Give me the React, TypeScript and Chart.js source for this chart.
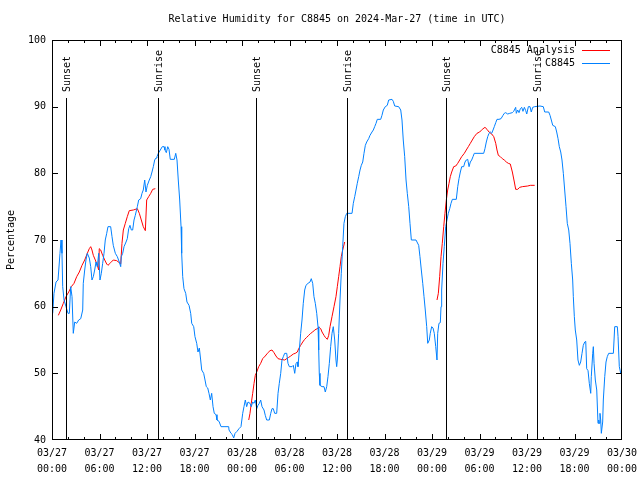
import React, { useEffect, useRef } from 'react';
import { Chart, registerables } from 'chart.js';

Chart.register(...registerables);

const TITLE = 'Relative Humidity for C8845 on 2024-Mar-27 (time in UTC)';
const Y_LABEL = 'Percentage';
const MONTH = '03';
const START_DAY = 27;
const X_MIN = 0;
const X_MAX = 72;
const X_STEP = 6;
const X_MINOR = 2;
const Y_MIN = 40;
const Y_MAX = 100;
const Y_STEP = 10;

const SERIES_LABELS = ['C8845 Analysis', 'C8845'];
const SERIES_COLORS = ['#ff0000', '#0080ff'];

// Observed relative humidity (hours since 03/27 00:00 UTC)
const obsHours = [
  0.09, 0.25, 0.51, 0.76, 1.01, 1.14, 1.26, 1.35, 1.52, 1.77, 2.02, 2.19, 2.36, 2.53, 2.69, 2.87, 3.12, 3.37, 3.63, 3.88,
  3.95, 4.13, 4.29, 4.46, 4.71, 4.89, 5.05, 5.22, 5.39, 5.56, 5.72, 5.9, 6.06, 6.23, 6.4, 6.57, 6.73, 6.91, 7.07, 7.41,
  7.58, 7.74, 8.0, 8.25, 8.5, 8.68, 8.75, 8.93, 9.1, 9.35, 9.51, 9.69, 9.85, 10.02, 10.19, 10.36, 10.52, 10.78, 10.95, 11.2,
  11.37, 11.53, 11.71, 11.87, 12.04, 12.29, 12.47, 12.63, 12.8, 12.97, 13.14, 13.26, 13.43, 13.68, 13.93, 14.15, 14.27, 14.44, 14.62, 14.78,
  14.94, 15.45, 15.63, 15.79, 15.95, 16.13, 16.3, 16.38, 16.51, 16.67, 16.89, 17.05, 17.31, 17.52, 17.65, 17.9, 18.06, 18.28, 18.44, 18.61,
  18.78, 18.91, 19.16, 19.33, 19.49, 19.67, 19.83, 20.0, 20.17, 20.34, 20.5, 20.72, 20.84, 21.1, 21.35, 21.85, 22.32, 22.36, 22.61, 22.78,
  22.95, 23.12, 23.37, 23.62, 23.87, 24.09, 24.25, 24.42, 24.59, 24.76,
  25.01, 25.17, 25.35, 25.52, 25.68, 25.86, 26.02, 26.19, 26.36, 26.53, 26.78, 26.94, 27.12, 27.45, 27.63, 27.79, 27.95, 28.13, 28.38, 28.55,
  28.71, 28.89, 29.05, 29.22, 29.39, 29.65, 29.81, 29.98, 30.32, 30.48, 30.66, 30.82, 30.99, 31.07, 31.24, 31.41, 31.58, 31.74, 31.92, 32.08,
  32.34, 32.59, 32.75, 32.93, 33.09, 33.26, 33.44, 33.6, 33.69, 33.76, 33.85, 34.11, 34.36, 34.52, 34.7, 34.86, 35.03, 35.2, 35.37, 35.53,
  35.71, 35.87, 35.96, 36.04, 36.21, 36.38, 36.54, 36.72, 36.88, 37.05, 37.23, 37.9, 38.06, 38.24, 38.4, 38.56, 38.74, 38.91, 39.07, 39.25,
  39.41, 39.58, 39.75, 40.0, 40.17, 40.42, 40.59, 40.76, 40.93, 41.09, 41.52, 41.68, 41.85, 42.1, 42.35, 42.53, 42.95, 43.11, 43.29, 43.79,
  44.05, 44.21, 44.37, 44.55, 44.72, 44.88, 45.06, 45.22, 45.39, 45.98, 46.32, 46.48, 46.65, 46.83, 46.99, 47.15, 47.33, 47.46, 47.66, 47.78,
  47.96, 48.13, 48.29, 48.47, 48.63, 48.72, 48.88, 49.05, 49.14, 49.22, 49.39, 49.55, 49.73, 49.89, 50.06, 50.24, 50.4, 50.57, 51.07, 51.25,
  51.41, 51.58, 51.75, 52.0, 52.17, 52.33, 52.51, 52.68, 52.84, 53.01, 53.18, 53.34, 54.53, 54.69, 54.86, 55.04, 55.2, 55.37, 55.54, 55.71,
  55.87, 56.05, 56.21, 56.46, 56.72, 56.97, 57.13, 57.31, 57.56, 57.82, 58.15, 58.32, 58.57, 58.65, 58.82, 58.99, 59.16, 59.33, 59.49, 59.67,
  59.84, 59.97, 60.17, 60.38, 60.54, 60.72, 60.97, 61.64, 62.06, 62.24, 62.74, 62.91, 63.07, 63.25, 63.58, 63.75, 63.92, 64.08, 64.26, 64.42,
  64.59, 64.76, 64.93, 65.09, 65.27, 65.43, 65.6, 65.77, 65.85, 65.98, 66.1, 66.28, 66.44, 66.61, 66.78, 66.95, 67.11, 67.29, 67.42, 67.54,
  67.71, 67.87, 68.05, 68.12, 68.3, 68.38, 68.47, 68.63, 68.81, 68.97, 69.06, 69.14, 69.22, 69.31, 69.39, 69.56, 69.64, 69.82, 69.98, 70.14,
  70.32, 70.91, 71.08, 71.41, 71.5, 71.66, 71.84,
];
const obsValues = [
  59, 62, 63.7, 64, 68, 70, 68, 63, 61, 60, 59, 59, 63, 61.5, 56, 57.7, 57.5, 58, 58.2, 59.5,
  63.5, 65.5, 67, 68, 67.3, 66, 64, 64.5, 65.5, 66.7, 66, 68, 64, 65, 66.5, 68, 70, 71, 72, 72,
  70.5, 69.2, 68, 67.5, 66.7, 66, 67.5, 68, 69, 69.7, 70.2, 71.7, 72.2, 71.5, 71.5, 73, 73.7, 75, 76, 76.2,
  77, 77.5, 79, 77.2, 78.2, 79, 79.5, 80.2, 81, 82, 82.3, 82.5, 83, 83.5, 84, 84, 83.5, 83.1, 84, 83.6,
  82.1, 82.1, 83, 82, 79, 76, 72, 68, 64.5, 62.7, 62, 60.7, 60.2, 59, 57.5, 57, 55.5, 54.5, 53.2, 53.8,
  52, 50.5, 50, 49, 48, 47.8, 47, 46, 47, 45, 44, 43.8, 43, 42.8, 42, 42, 42, 41.5, 41, 40.8,
  40.3, 41, 41.3, 41.7, 42, 44, 45, 46, 45, 45.7,
  45.5, 45, 45.7, 45.5, 46, 44.7, 45.2, 45.5, 46, 45, 44.5, 43.7, 43, 43, 44, 44.7, 44.7, 44, 44, 47,
  48.5, 50, 52, 52.5, 53, 53, 51.5, 51, 51, 51.2, 50, 51.5, 51.7, 51, 53.5, 56, 58, 60.5, 62.5, 63.2,
  63.5, 63.7, 64.2, 63.5, 61.5, 60.5, 59, 57, 53.5, 50, 48.2, 48, 48, 47.2, 48, 49.5, 51.5, 54, 56, 57,
  55, 52, 51, 52, 56, 61, 65, 69, 72.5, 73.5, 74, 74, 75.5, 76.5, 77.5, 78.5, 79.5, 80.5, 81.2, 81.7,
  83, 84.2, 84.7, 85.2, 85.7, 86.2, 86.5, 87, 87.5, 88.1, 88.1, 88.7, 89.5, 90, 90.2, 91, 91.1, 90.8, 90.1, 90,
  89.5, 88, 85, 82.5, 79, 77, 75, 72.5, 70, 70, 69.2, 67.5, 65.5, 63.5, 61.5, 59.5, 57, 54.5, 55, 56,
  57, 56.8, 56, 54, 52, 56, 57.5, 57.6, 60, 62.5, 66.5, 69, 72, 73, 74, 74.7, 75.5, 76.1, 76.1, 78,
  79.2, 80.2, 81, 81, 81.7, 82, 82.1, 81, 81.7, 82, 82.5, 83, 83, 83.7, 84.7, 85.5, 86, 86.2, 86, 86.5,
  87, 87.6, 88.1, 88.1, 88.2, 88.7, 89, 89.1, 88.9, 89, 89.1, 89.3, 89.9, 89, 89.5, 89.1, 89.7, 89.9, 89.3, 89.9,
  89.4, 88.9, 90, 90, 89.2, 89.9, 90, 90.1, 90, 89.2, 89.2, 88.7, 88, 87.2, 87, 86.2, 85.2, 84, 83.2, 82,
  80, 77.5, 75, 72.5, 71.5, 69.5, 66.5, 64, 61.5, 58.5, 56.5, 55, 52, 51.2, 51.7, 53, 54.2, 54.7, 54.8, 50.7,
  50.4, 48.5, 47, 49.5, 53, 54, 51.5, 49, 47.5, 42.5, 43, 42.5, 44, 43, 41, 42.7, 46, 49.5, 51.7, 52.5,
  53, 53, 57, 57, 55.5, 51, 50,
];

// Analysis relative humidity (null = gap between analysis periods)
const anaHours = [
  0.8, 1.1, 1.43, 1.77, 2.11, 2.44, 2.78, 3.12, 3.45, 3.79, 4.13, 4.46, 4.71, 4.89, 5.05, 5.22, 5.47, 5.72, 5.9, 5.97,
  6.15, 6.4, 6.66, 6.91, 7.07, 7.41, 7.74, 8.17, 8.5, 8.68, 8.84, 9.01, 9.26, 9.51, 9.76, 10.27, 10.78, 11.03, 11.28, 11.53,
  11.79, 11.96, 12.21, 12.47, 12.72, 13.05,
  19,
  24.85, 25.01, 25.17, 25.35, 25.52, 25.68, 25.86, 26.11, 26.36, 26.61, 26.94, 27.2, 27.54, 27.79, 28.04, 28.29, 28.55, 28.89, 29.39, 29.9,
  30.15, 30.48, 30.73, 30.99, 31.16, 31.41, 31.67, 31.92, 32.17, 32.43, 32.68, 32.93, 33.18, 33.51, 33.76, 33.94, 34.11, 34.36, 34.52, 34.78,
  34.95, 35.12, 35.37, 35.62, 35.87, 36.04, 36.21, 36.38, 36.54, 36.72, 36.97,
  43,
  48.63, 48.8, 48.97, 49.14, 49.3, 49.48, 49.64, 49.81, 49.98, 50.15, 50.31, 50.49, 50.74, 51.0, 51.25, 51.5, 51.75, 52.08, 52.33, 52.59,
  52.84, 53.09, 53.34, 53.68, 54.02, 54.35, 54.69, 54.95, 55.2, 55.54, 55.8, 56.05, 56.21, 56.38, 56.63, 56.88, 57.13, 57.39, 57.64, 57.89,
  58.15, 58.4, 58.57, 58.82, 59.08, 59.41, 60.09, 60.42, 60.97,
];
const anaValues = [
  58.7, 59.5, 60.5, 61.5, 62.2, 63, 63.5, 64.5, 65.2, 66.2, 67, 68, 68.7, 69, 68.5, 67.7, 67, 66.2, 65.5, 68.7,
  68.5, 67.7, 67, 66.4, 66.2, 66.6, 67, 66.9, 66.6, 66.4, 69.5, 71.5, 72.5, 73.5, 74.4, 74.5, 74.7, 74, 73, 72,
  71.4, 76, 76.5, 77, 77.6, 77.7,
  null,
  43, 44, 45.5, 47, 48.5, 49.7, 50.2, 51, 51.5, 52.2, 52.6, 53, 53.4, 53.5, 53.1, 52.6, 52.2, 52.1, 52, 52.4,
  52.6, 52.9, 53, 53.2, 53.7, 54.2, 54.7, 55.1, 55.4, 55.7, 56, 56.2, 56.5, 56.7, 56.9, 56.7, 56.2, 55.7, 55.4, 55.1,
  55.7, 57, 58.5, 60, 61.5, 63, 64.5, 66, 67.5, 68.5, 69.7,
  null,
  61, 62, 64.5, 67.5, 69.5, 72, 74, 76, 77.5, 78.5, 79.5, 80.2, 81, 81.1, 81.5, 82, 82.5, 83, 83.5, 84,
  84.5, 85, 85.5, 86, 86.2, 86.6, 86.9, 86.6, 86.2, 85.9, 85.5, 84.5, 83.5, 82.7, 82.5, 82.2, 82, 81.7, 81.5, 81.4,
  80.2, 78.7, 77.6, 77.6, 77.9, 78, 78.1, 78.2, 78.2,
];

// Sunset / sunrise markers (hours since start)
const sunHours = [1.77, 13.43, 25.81, 37.3, 49.73, 61.3];
const sunLabels = ['Sunset', 'Sunrise', 'Sunset', 'Sunrise', 'Sunset', 'Sunrise'];
const SUN_LINE_TOP = 91.25;

const FONT_FAMILY = '"DejaVu Sans Mono", monospace';
const FONT = `10px ${FONT_FAMILY}`;

function tickLabel(v: number): string[] {
  const day = START_DAY + Math.floor(v / 24);
  const hr = v % 24;
  return [`${MONTH}/${String(day).padStart(2, '0')}`, `${String(hr).padStart(2, '0')}:00`];
}

const decorPlugin = {
  id: 'decor',
  afterDatasetsDraw(chart: any) {
    const { ctx, chartArea: a, scales } = chart;
    const xs = scales.x;
    const ys = scales.y;
    ctx.save();
    ctx.strokeStyle = '#000';
    ctx.fillStyle = '#000';
    ctx.lineWidth = 1;
    ctx.font = FONT;

    // sunrise / sunset lines and labels
    const lineTop = Math.round(ys.getPixelForValue(SUN_LINE_TOP));
    sunHours.forEach((h, i) => {
      const px = Math.round(xs.getPixelForValue(h)) + 0.5;
      ctx.beginPath();
      ctx.moveTo(px, lineTop);
      ctx.lineTo(px, a.bottom);
      ctx.stroke();
      ctx.save();
      ctx.translate(px + 1, lineTop - 6);
      ctx.rotate(-Math.PI / 2);
      ctx.textAlign = 'left';
      ctx.textBaseline = 'middle';
      ctx.fillText(sunLabels[i], 0, 0);
      ctx.restore();
    });

    // frame
    ctx.strokeRect(a.left + 0.5, a.top + 0.5, a.right - a.left - 1, a.bottom - a.top - 1);

    // x ticks (inward, top and bottom)
    for (let h = X_MIN; h <= X_MAX; h += X_MINOR) {
      const len = h % X_STEP === 0 ? 6 : 3;
      let px = Math.round(xs.getPixelForValue(h)) + 0.5;
      px = Math.min(Math.max(px, a.left + 0.5), a.right - 0.5);
      ctx.beginPath();
      ctx.moveTo(px, a.bottom);
      ctx.lineTo(px, a.bottom - len);
      ctx.moveTo(px, a.top);
      ctx.lineTo(px, a.top + len);
      ctx.stroke();
    }
    // y ticks (inward, left and right)
    for (let v = Y_MIN; v <= Y_MAX; v += Y_STEP) {
      let py = Math.round(ys.getPixelForValue(v)) + 0.5;
      py = Math.min(Math.max(py, a.top + 0.5), a.bottom - 0.5);
      ctx.beginPath();
      ctx.moveTo(a.left, py);
      ctx.lineTo(a.left + 6, py);
      ctx.moveTo(a.right, py);
      ctx.lineTo(a.right - 6, py);
      ctx.stroke();
    }

    // title
    ctx.textAlign = 'center';
    ctx.textBaseline = 'middle';
    ctx.fillText(TITLE, (a.left + a.right) / 2, 19);

    // legend
    chart.data.datasets.forEach((ds: any, i: number) => {
      const y = a.top + 10 + i * 13;
      ctx.textAlign = 'right';
      ctx.fillStyle = '#000';
      ctx.fillText(ds.label, a.right - 47, y);
      ctx.strokeStyle = ds.borderColor;
      ctx.beginPath();
      ctx.moveTo(a.right - 40, y + 0.5);
      ctx.lineTo(a.right - 12, y + 0.5);
      ctx.stroke();
    });
    ctx.restore();
  },
};

export default function App() {
  const ref = useRef<HTMLCanvasElement | null>(null);
  useEffect(() => {
    if (!ref.current) return;
    Chart.defaults.color = '#000';
    const chart = new Chart(ref.current, {
      type: 'line',
      data: {
        datasets: [
          {
            label: SERIES_LABELS[0],
            data: anaHours.map((h, i) => ({ x: h, y: anaValues[i] })),
            borderColor: SERIES_COLORS[0],
            borderWidth: 1,
            pointRadius: 0,
            tension: 0,
            spanGaps: false,
            order: 2,
          },
          {
            label: SERIES_LABELS[1],
            data: obsHours.map((h, i) => ({ x: h, y: obsValues[i] })),
            borderColor: SERIES_COLORS[1],
            borderWidth: 1,
            pointRadius: 0,
            tension: 0,
            order: 1,
          },
        ],
      },
      options: {
        animation: false,
        responsive: false,
        devicePixelRatio: 1,
        layout: { padding: { top: 40, right: 18, bottom: 0, left: 0 } },
        plugins: { legend: { display: false }, title: { display: false }, tooltip: { enabled: false } },
        scales: {
          x: {
            type: 'linear',
            min: X_MIN,
            max: X_MAX,
            grid: { display: false, drawTicks: false },
            border: { display: false },
            ticks: {
              stepSize: X_STEP,
              autoSkip: false,
              maxRotation: 0,
              padding: 5,
              color: '#000',
              font: { family: FONT_FAMILY, size: 10, lineHeight: 1.6 },
              callback: (v: any) => tickLabel(Number(v)),
            },
            afterFit: (s: any) => {
              s.height = 40;
              s.paddingLeft = 0;
              s.paddingRight = 0;
            },
          },
          y: {
            min: Y_MIN,
            max: Y_MAX,
            grid: { display: false, drawTicks: false },
            border: { display: false },
            ticks: {
              stepSize: Y_STEP,
              padding: 6,
              color: '#000',
              font: { family: FONT_FAMILY, size: 10 },
            },
            title: {
              display: true,
              text: Y_LABEL,
              color: '#000',
              font: { family: FONT_FAMILY, size: 10 },
              padding: { top: 5, bottom: 0 },
            },
            afterFit: (s: any) => {
              s.width = 52;
            },
          },
        },
      },
      plugins: [decorPlugin],
    });
    return () => chart.destroy();
  }, []);
  return (
    <canvas
      ref={ref}
      width={640}
      height={480}
      style={{ position: 'absolute', left: 0, top: 0, width: 640, height: 480, background: '#fff' }}
    />
  );
}
